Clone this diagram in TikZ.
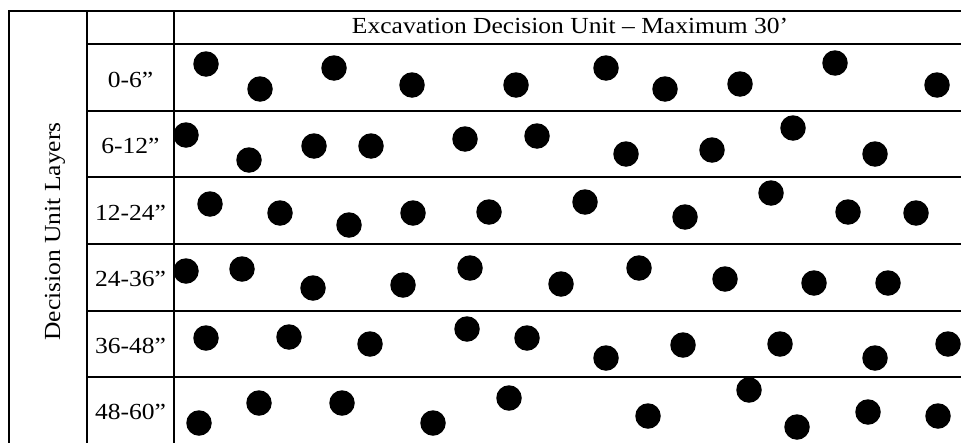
\documentclass[tikz,border=0pt]{standalone}
\usepackage{fontspec}
\usepackage{graphicx}
\setmainfont{Liberation Serif}
\begin{document}
\begin{tikzpicture}[x=1pt,y=-1pt,
  gridline/.style={line width=2pt, black},
  dot/.style={circle,fill=black,draw=none,minimum size=25.5pt,inner sep=0pt},
  lbl/.style={font=\fontsize{23}{27}\selectfont, inner sep=0pt, anchor=base}]
\useasboundingbox (0,0) rectangle (961,442);
\fill[white] (0,0) rectangle (961,442);
% grid
\coordinate (tl) at (9,11);
\coordinate (tr) at (961,11);
\coordinate (bl) at (9,444);
\draw[gridline] (bl) -- (tl) -- (tr);
\draw[gridline] (87,444) -- (87,11);
\draw[gridline] (174,444) -- (174,11);
\foreach \yy in {44,111,177,244,311,377} \draw[gridline] (87,\yy) -- (961,\yy);
% texts
\node[lbl] (hdr) at (570,33) {\scalebox{1.11}[1]{Excavation Decision Unit – Maximum 30’}};
\node[lbl] (l1) at (130.5,87) {\scalebox{1.11}[1]{0-6”}};
\node[lbl] (l2) at (130.5,153.5) {\scalebox{1.11}[1]{6-12”}};
\node[lbl] (l3) at (130.5,220) {\scalebox{1.11}[1]{12-24”}};
\node[lbl] (l4) at (130.5,286.5) {\scalebox{1.11}[1]{24-36”}};
\node[lbl] (l5) at (130.5,353) {\scalebox{1.11}[1]{36-48”}};
\node[lbl] (l6) at (130.5,419) {\scalebox{1.11}[1]{48-60”}};
\node[lbl, rotate=90] (side) at (60,231.5) {\scalebox{1.11}[1]{Decision Unit Layers}};
% dots
\foreach \x/\y [count=\i] in {206/64,260/89,334/68,412/85,516/85,606/68,665/89,740/84,835/63,937/85}
  \node[dot] (a\i) at (\x,\y) {};
\foreach \x/\y [count=\i] in {186/135,249/160,314/146,371/146,465/139,537/136,626/154,712/150,793/128,875/154}
  \node[dot] (b\i) at (\x,\y) {};
\foreach \x/\y [count=\i] in {210/204,280/213,349/225,413/213,489/212,585/202,685/217,771/193,848/212,916/213}
  \node[dot] (c\i) at (\x,\y) {};
\foreach \x/\y [count=\i] in {186/271,242/269,313/288,403/285,470/268,561/284,639/268,725/279,814/283,888/283}
  \node[dot] (d\i) at (\x,\y) {};
\foreach \x/\y [count=\i] in {206/338,289/337,370/344,467/329,527/338,606/358,683/345,780/344,875/358,948/344}
  \node[dot] (e\i) at (\x,\y) {};
\foreach \x/\y [count=\i] in {199/423,259/403,342/403,433/423,509/398,648/416,749/390,797/427,868/412,938/416}
  \node[dot] (f\i) at (\x,\y) {};
\end{tikzpicture}
\end{document}
